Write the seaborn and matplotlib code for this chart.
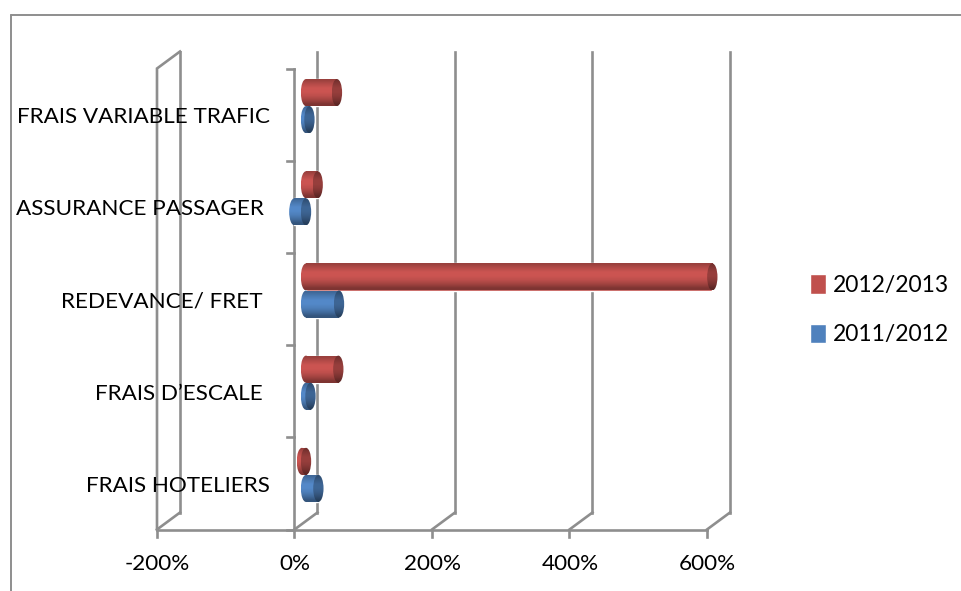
import numpy as np
import pandas as pd
import matplotlib
matplotlib.use("Agg")
import matplotlib.pyplot as plt
from matplotlib.patches import Ellipse
from matplotlib.transforms import ScaledTranslation
import seaborn as sns

categories = ["FRAIS VARIABLE TRAFIC", "ASSURANCE PASSAGER", "REDEVANCE/ FRET", "FRAIS D’ESCALE", "FRAIS HOTELIERS"]
series_2012_2013 = [45, 17, 591, 47, -6]
series_2011_2012 = [5, -17, 48, 6.5, 18]
series_names = ["2012/2013", "2011/2012"]
x_ticks = [-200, 0, 200, 400, 600]
x_tick_labels = ["-200%", "0%", "200%", "400%", "600%"]

RED, BLUE = "#C0504D", "#4F81BD"
GRID = "#8E8E8E"
W, H = 962, 591
FONT = 16.2
LEG_FONT = 16.5

sns.set_theme(style="white")
plt.rcParams["font.family"] = ["Lato", "DejaVu Sans"]

df = pd.DataFrame({
    "cat": categories * 2,
    "val": series_2012_2013 + series_2011_2012,
    "ser": [series_names[0]] * 5 + [series_names[1]] * 5,
})

fig = plt.figure(figsize=(W / 100, H / 100), dpi=100, facecolor="white")

# pixel-space backdrop for the pseudo-3D walls
bg = fig.add_axes([0, 0, 1, 1], zorder=0)
bg.set_xlim(0, W)
bg.set_ylim(H, 0)
bg.axis("off")

L, R, T, B = 168.5, 718.5, 60, 521
ax = fig.add_axes([L / W, 1 - B / H, (R - L) / W, (B - T) / H], zorder=1)
ax.patch.set_alpha(0)

sns.barplot(data=df, y="cat", x="val", hue="ser", order=categories, hue_order=series_names,
            palette=[RED, BLUE], saturation=1, width=0.587, gap=0, dodge=True, ax=ax, legend=True)
ax.set_xlim(x_ticks[0], x_ticks[-1])
ax.set_ylim(4.5, -0.5)
ax.set(xlabel=None, ylabel=None)
sns.despine(ax=ax, left=True, bottom=True)
ax.set_xticks(x_ticks, x_tick_labels)
ax.tick_params(axis="both", length=0, pad=0, labelsize=FONT, labelcolor="black")

DEPTH_X, DEPTH_Y = 11.5, 8.5


def line(xs, ys):
    bg.plot(xs, ys, color=GRID, lw=1.9, solid_capstyle="projecting", solid_joinstyle="miter")


to_px = lambda v: L + (v - x_ticks[0]) / (x_ticks[-1] - x_ticks[0]) * (R - L)
front_top, front_bot = T + DEPTH_Y, B + DEPTH_Y
back_top, back_bot = T - DEPTH_Y, B - DEPTH_Y

# outer chart frame
bg.plot([11.5, W], [14.5, 14.5], color=GRID, lw=1.4)
bg.plot([11.5, 11.5], [14.5, H], color=GRID, lw=1.4)

for v in x_ticks:
    c = to_px(v)
    f, b = c - DEPTH_X, c + DEPTH_X
    line([b, b], [back_top, back_bot])
    line([f, b], [front_bot, back_bot])
    line([f, f], [front_bot, front_bot + 7])
f0 = to_px(x_ticks[0]) - DEPTH_X
b0 = to_px(x_ticks[0]) + DEPTH_X
line([b0, f0, f0], [back_top, front_top, front_bot])
z = to_px(0) - DEPTH_X
line([z, z], [front_top, front_bot])
line([f0, to_px(x_ticks[-1]) - DEPTH_X], [front_bot, front_bot])
for i in range(6):
    yy = front_top + i * (B - T) / 5
    line([z - 7, z], [yy, yy])


def gradient(base, dark=1.0):
    rgb = np.array(matplotlib.colors.to_rgb(base))
    stops = np.array([0.80, 0.94, 1.06, 1.06, 0.98, 0.84, 0.66])
    rows = np.clip(rgb[None, :] * stops[:, None] * dark, 0, 1)
    return rows[:, None, :]


cap_w = 15.0
patches = list(ax.patches)
bars = [p for p in patches if p.get_height() > 0 and abs(p.get_height()) < 1][:10]
for idx, p in enumerate(bars):
    base = RED if idx < 5 else BLUE
    x0 = min(p.get_x(), p.get_x() + p.get_width())
    x1 = max(p.get_x(), p.get_x() + p.get_width())
    y0, h = p.get_y(), p.get_height()
    yc = y0 + h / 2
    if x1 > x0:
        im = ax.imshow(gradient(base), extent=(x0, x1, y0 + h, y0), origin="upper", aspect="auto",
                       interpolation="bilinear", zorder=3)
        im.set_clip_path(p)
    left = Ellipse((x0, yc), cap_w, h, facecolor="none", edgecolor="none", zorder=3)
    ax.add_patch(left)
    im = ax.imshow(gradient(base), extent=(x0 - cap_w / 2, x0 + cap_w / 2, y0 + h, y0), origin="upper",
                   aspect="auto", interpolation="bilinear", zorder=3)
    im.set_clip_path(left)
    right = Ellipse((x1, yc), cap_w, h, facecolor="none", edgecolor="none", zorder=4)
    ax.add_patch(right)
    im = ax.imshow(gradient(base, 0.74), extent=(x1 - cap_w / 2, x1 + cap_w / 2, y0 + h, y0), origin="upper",
                   aspect="auto", interpolation="bilinear", zorder=4)
    im.set_clip_path(right)
ax.set_xlim(x_ticks[0], x_ticks[-1])
ax.set_ylim(4.5, -0.5)

# tick labels: placed relative to the front plane of the pseudo-3D box
for lab in ax.get_xticklabels():
    lab.set_va("center")
    lab.set_transform(lab.get_transform() + ScaledTranslation((-DEPTH_X + 0.5) / 100, -43.5 / 100, fig.dpi_scale_trans))
right_edges = [270, 264, 263, 263, 270]
for lab, re in zip(ax.get_yticklabels(), right_edges):
    lab.set_transform(lab.get_transform() + ScaledTranslation((re - L) / 100, -9.0 / 100, fig.dpi_scale_trans))
    lab.set_zorder(6)

handles, labels = ax.get_legend_handles_labels()
ax.get_legend().remove()
px = LEG_FONT * 100 / 72
ax.legend(handles, labels, loc="upper left", bbox_to_anchor=(810.5 / W, 1 - 274 / H), bbox_transform=fig.transFigure,
          frameon=False, fontsize=LEG_FONT, borderpad=0, borderaxespad=0, handlelength=15.5 / px, handleheight=0.95,
          handletextpad=7 / px, labelspacing=1.22, labelcolor="black")

fig.savefig("out.png", dpi=100, facecolor="white")
